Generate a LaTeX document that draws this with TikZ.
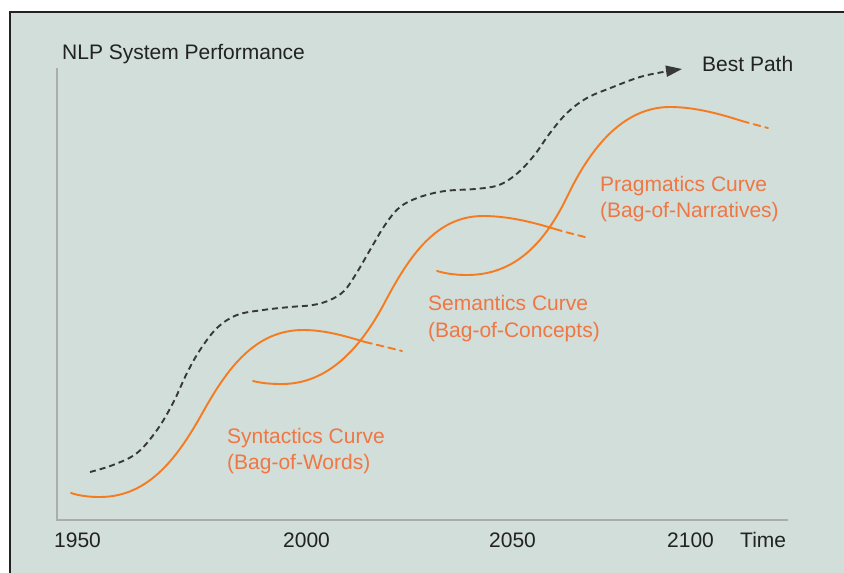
\documentclass[tikz,border=0pt]{standalone}
\usepackage{fontspec}
\setmainfont{Liberation Sans}
\usetikzlibrary{arrows.meta}
\definecolor{bg}{RGB}{209,222,217}
\definecolor{curveor}{RGB}{245,122,32}
\definecolor{textor}{RGB}{240,118,68}
\definecolor{axisgray}{RGB}{172,172,172}
\definecolor{ink}{RGB}{34,34,34}
\tikzset{
  lbl/.style={anchor=base west, inner sep=0pt, text=ink, font=\fontsize{21}{25}\selectfont},
  orlbl/.style={lbl, text=textor},
  ocurve/.style={draw=curveor, line width=1.9pt, line cap=round},
  otail/.style={ocurve, dash pattern=on 7pt off 5pt},
  bestpath/.style={draw=ink!90, line width=1.9pt, dash pattern=on 6pt off 4pt},
  axisline/.style={draw=axisgray, line width=1.6pt}
}
\begin{document}
\begin{tikzpicture}[x=1pt,y=-1pt]
\useasboundingbox (0,0) rectangle (844,573);
\fill[white] (0,0) rectangle (844,573);
\fill[bg] (10,12) rectangle (844,573);
\draw[ink, line width=1.2pt] (10,573) -- (10,12) -- (844,12);

% axes
\coordinate (ytop) at (57,68);
\coordinate (orig) at (57,520);
\coordinate (xend) at (788,520);
\draw[axisline] (ytop) -- (orig) -- (xend);

% axis labels
\node[lbl] (ylab) at (62,59) {NLP System Performance};
\node[lbl] (t1950) at (54,547) {1950};
\node[lbl] (t2000) at (283,547) {2000};
\node[lbl] (t2050) at (489,547) {2050};
\node[lbl] (t2100) at (667,547) {2100};
\node[lbl] (tlab) at (740,547) {Time};
\node[lbl] (best) at (702,71) {Best Path};

% curve labels
\node[orlbl] (syn1) at (227,443) {Syntactics Curve};
\node[orlbl] (syn2) at (227,469) {(Bag-of-Words)};
\node[orlbl] (sem1) at (428,310) {Semantics Curve};
\node[orlbl] (sem2) at (428,337) {(Bag-of-Concepts)};
\node[orlbl] (pra1) at (600,191) {Pragmatics Curve};
\node[orlbl] (pra2) at (600,217) {(Bag-of-Narratives)};

% syntactics curve
\draw[ocurve] (71,493) .. controls (80,496) and (90,497) .. (100,497)
  .. controls (150,497) and (179,455) .. (203,412)
  .. controls (227,369) and (255,330) .. (303,330)
  .. controls (325,330) and (345,336) .. (365,342);
\draw[otail] (365,342) .. controls (378,345) and (390,348) .. (402,351);

% semantics curve
\draw[ocurve] (253,381) .. controls (263,383.5) and (272,384) .. (282,384)
  .. controls (327,384) and (360,349.5) .. (385,302)
  .. controls (410,254.5) and (437,216) .. (483,216)
  .. controls (510,216) and (535,223) .. (555,229);
\draw[otail] (555,229) .. controls (565,232) and (575,234.5) .. (585,237);

% pragmatics curve
\draw[ocurve] (437,271) .. controls (447,274) and (457,275) .. (467,275)
  .. controls (515,275) and (545,243) .. (568,195)
  .. controls (592,145) and (625,107) .. (670,107)
  .. controls (695,107) and (720,114) .. (742,121);
\draw[otail] (742,121) .. controls (751,123.5) and (760,126) .. (768,128);

% best path
\coordinate (bpstart) at (90,472);
\coordinate (bpend) at (682,69);
\draw[bestpath, -{Triangle[length=16pt,width=11pt]}] plot[smooth, tension=0.6] coordinates {(bpstart) (113,465) (137,453) (157,430) (173,403) (187,373) (200,350) (217,328) (237,315) (263,310) (290,307) (313,305) (330,300) (344,291) (356,274) (370,250) (385,225) (400,207) (420,197) (445,191) (475,189) (496,186) (510,179) (523,168) (536,153) (550,133) (567,113) (587,98) (613,87) (640,77) (663,72) (bpend)};
\end{tikzpicture}
\end{document}
